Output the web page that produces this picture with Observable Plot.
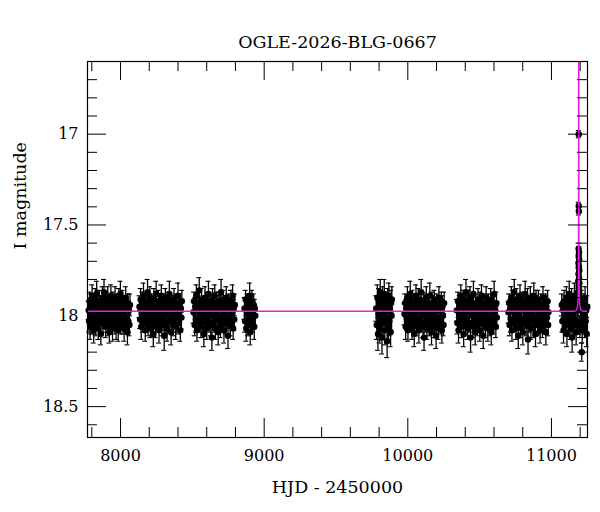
<!DOCTYPE html>
<html><head><meta charset="utf-8">
<script src="https://cdn.jsdelivr.net/npm/d3@7"></script>
<script src="https://cdn.jsdelivr.net/npm/@observablehq/plot@0.6"></script>
<style>body{margin:0;background:#fff;} #c svg{display:block;}</style>
</head><body><div id="c"></div>
<script>
const title = "OGLE-2026-BLG-0667";
const xLabel = "HJD - 2450000";
const yLabel = "I magnitude";
const xMajor = [8000, 9000, 10000, 11000];
const xMinor = [7800, 8200, 8400, 8600, 8800, 9200, 9400, 9600, 9800, 10200, 10400, 10600, 10800, 11200];
const yMajor = [17, 17.5, 18, 18.5];
const yMinor = [16.7, 16.8, 16.9, 17.1, 17.2, 17.3, 17.4, 17.6, 17.7, 17.8, 17.9, 18.1, 18.2, 18.3, 18.4, 18.6];

// [HJD-2450000, I mag, error]
const season1 = [[7778,17.97,.05],[7781,18.03,.06],[7785,17.92,.05],[7788,18.06,.07],[7791,17.99,.05],[7795,17.94,.06],[7798,18.01,.05],[7802,17.89,.06],[7806,18.04,.06],[7809,17.96,.05],[7813,18.08,.07],[7816,17.93,.05],[7820,18.00,.06],[7824,17.91,.06],[7827,18.05,.06],[7831,17.97,.05],[7834,17.88,.07],[7838,18.02,.05],[7842,17.95,.06],[7845,18.07,.06],[7849,17.98,.05],[7853,17.92,.06],[7856,18.03,.05],[7860,17.96,.07],[7863,18.10,.06],[7867,17.94,.05],[7871,18.00,.06],[7874,17.90,.06],[7878,18.04,.05],[7882,17.97,.06],[7885,17.87,.07],[7889,18.02,.05],[7892,17.95,.06],[7896,18.06,.06],[7900,17.99,.05],[7903,17.93,.06],[7907,18.01,.05],[7911,17.91,.07],[7914,18.05,.06],[7918,17.96,.05],[7922,18.09,.06],[7925,17.94,.05],[7929,18.00,.06],[7933,17.89,.06],[7936,18.03,.05],[7940,17.97,.06],[7944,18.07,.07],[7947,17.92,.05],[7951,18.02,.06],[7955,17.95,.05],[7958,18.04,.06],[7962,17.90,.06],[7966,17.99,.05],[7969,18.06,.07],[7973,17.93,.05],[7977,18.01,.06],[7980,17.96,.05],[7984,18.08,.06],[7988,17.91,.06],[7991,18.03,.05],[7995,17.97,.06],[7999,17.88,.07],[8002,18.05,.05],[8006,17.94,.06],[8010,18.00,.05],[8014,17.92,.06],[8017,18.04,.06],[8021,17.98,.05],[8025,18.07,.07],[8029,17.95,.06],[8032,18.02,.05],[8036,17.90,.06],[8040,18.01,.06],[8044,17.96,.05],[8048,18.09,.07],[8051,17.93,.05],[8055,18.03,.06],[8059,17.97,.05],[8062,18.05,.06],[8066,17.94,.06]];
const season2 = [[8132,17.95,.06],[8136,18.02,.05],[8140,17.91,.06],[8144,18.06,.07],[8148,17.98,.05],[8152,17.93,.06],[8156,18.04,.05],[8160,17.89,.07],[8164,18.00,.06],[8168,17.96,.05],[8172,18.08,.06],[8176,17.92,.05],[8180,18.03,.06],[8184,17.97,.05],[8188,17.87,.07],[8192,18.05,.06],[8196,17.94,.05],[8200,18.01,.06],[8204,17.90,.06],[8208,18.07,.05],[8212,17.99,.06],[8216,17.93,.05],[8220,18.04,.07],[8224,17.96,.05],[8228,18.10,.07],[8232,17.91,.06],[8236,18.02,.05],[8240,17.95,.06],[8244,18.06,.06],[8248,17.88,.07],[8252,18.00,.05],[8256,17.97,.06],[8260,18.03,.05],[8264,17.92,.06],[8268,18.08,.07],[8272,17.94,.05],[8276,18.01,.06],[8280,17.98,.05],[8284,17.89,.06],[8288,18.05,.06],[8292,17.96,.05],[8296,18.02,.06],[8300,17.93,.05],[8304,18.11,.08],[8308,17.99,.06],[8312,17.90,.05],[8316,18.04,.06],[8320,17.95,.05],[8324,18.07,.07],[8328,17.97,.06],[8332,17.92,.05],[8336,18.03,.06],[8340,17.88,.07],[8344,18.01,.05],[8348,17.96,.06],[8352,18.09,.07],[8356,17.94,.05],[8360,18.02,.06],[8364,17.98,.05],[8368,18.05,.06],[8372,17.91,.06],[8376,18.00,.05],[8380,17.95,.06],[8384,18.06,.07],[8388,17.93,.05],[8392,18.03,.06],[8396,17.97,.05],[8400,17.89,.07],[8404,18.04,.06],[8408,17.99,.05],[8412,17.94,.06],[8416,18.08,.06],[8420,17.96,.05],[8424,18.01,.06],[8427,17.92,.06]];
const season3 = [[8508,17.98,.06],[8512,17.92,.05],[8516,18.05,.06],[8520,17.95,.05],[8524,18.02,.07],[8528,17.89,.06],[8532,18.08,.06],[8536,17.97,.05],[8540,17.93,.06],[8544,18.03,.05],[8548,17.86,.07],[8552,18.00,.06],[8556,17.96,.05],[8560,18.06,.06],[8564,17.91,.06],[8568,18.04,.05],[8572,17.99,.06],[8576,17.94,.05],[8580,18.10,.07],[8584,17.97,.05],[8588,17.90,.06],[8592,18.02,.06],[8596,17.95,.05],[8600,18.07,.06],[8604,17.92,.05],[8608,18.01,.06],[8612,17.88,.07],[8616,18.04,.05],[8620,17.98,.06],[8624,17.93,.05],[8628,18.05,.06],[8632,17.96,.05],[8636,18.12,.07],[8640,17.91,.06],[8644,18.00,.05],[8648,17.95,.06],[8652,18.03,.06],[8656,17.89,.06],[8660,18.07,.06],[8664,17.97,.05],[8668,17.93,.06],[8672,18.02,.05],[8676,17.99,.06],[8680,18.09,.07],[8684,17.92,.05],[8688,18.01,.06],[8692,17.94,.05],[8696,18.06,.06],[8700,17.87,.07],[8704,18.03,.06],[8708,17.96,.05],[8712,18.00,.06],[8716,17.91,.05],[8720,18.08,.07],[8724,17.98,.06],[8728,17.94,.05],[8732,18.04,.06],[8736,17.90,.06],[8740,18.02,.05],[8744,17.97,.06],[8748,18.11,.07],[8752,17.93,.05],[8756,18.01,.06],[8760,17.95,.05],[8764,18.05,.06],[8768,17.92,.06],[8772,18.03,.05],[8776,17.98,.06],[8780,17.89,.06],[8784,18.07,.06],[8788,17.96,.05],[8792,18.02,.06],[8796,17.94,.06]];
const season4 = [[8863,17.96,.06],[8867,18.03,.06],[8871,17.91,.05],[8875,18.07,.07],[8879,17.98,.06],[8883,17.93,.05],[8887,18.05,.06],[8891,17.95,.06],[8895,18.01,.05],[8899,17.89,.07],[8903,18.09,.07],[8907,17.97,.05],[8911,18.02,.06],[8915,17.92,.06],[8919,18.04,.05],[8923,17.99,.06],[8927,17.94,.06],[8931,18.06,.07],[8935,17.96,.05],[8938,18.00,.06]];
const season5 = [[9780,17.96,.07],[9784,18.05,.08],[9788,17.90,.07],[9792,18.10,.09],[9796,17.99,.07],[9800,17.93,.08],[9804,18.07,.08],[9808,17.87,.07],[9812,18.02,.08],[9816,17.95,.07],[9820,18.12,.09],[9824,17.91,.07],[9828,18.04,.08],[9832,17.98,.07],[9836,17.88,.08],[9840,18.08,.08],[9844,17.94,.07],[9848,18.01,.08],[9852,17.97,.07],[9856,18.14,.09],[9860,17.92,.07],[9864,18.06,.08],[9868,17.89,.07],[9872,18.03,.08],[9876,17.96,.07],[9880,18.09,.08],[9884,17.93,.07],[9887,18.00,.08],[9889,17.91,.07]];
const season6 = [[9977,17.99,.06],[9981,17.93,.05],[9985,18.06,.07],[9989,17.96,.05],[9993,18.02,.06],[9997,17.90,.06],[10001,18.08,.06],[10005,17.97,.05],[10009,17.94,.06],[10013,18.04,.05],[10017,17.88,.07],[10021,18.00,.06],[10025,17.95,.05],[10029,18.07,.06],[10033,17.92,.06],[10037,18.03,.05],[10041,17.98,.06],[10045,18.10,.07],[10049,17.93,.05],[10053,18.01,.06],[10057,17.89,.06],[10061,18.05,.06],[10065,17.96,.05],[10069,18.02,.06],[10073,17.91,.06],[10077,18.08,.07],[10081,17.97,.05],[10085,17.94,.06],[10089,18.04,.05],[10093,17.87,.07],[10097,18.00,.06],[10101,17.95,.05],[10105,18.06,.06],[10109,17.92,.05],[10113,18.12,.07],[10117,17.98,.06],[10121,17.93,.05],[10125,18.03,.06],[10129,17.90,.06],[10133,18.07,.06],[10137,17.96,.05],[10141,18.01,.06],[10145,17.94,.05],[10149,18.05,.06],[10153,17.89,.07],[10157,18.02,.06],[10161,17.97,.05],[10165,18.09,.07],[10169,17.93,.06],[10173,18.00,.05],[10177,17.95,.06],[10181,18.06,.06],[10185,17.91,.05],[10189,18.03,.06],[10193,17.98,.05],[10197,18.11,.07],[10201,17.94,.06],[10205,18.02,.05],[10209,17.96,.06],[10213,18.07,.06],[10217,17.90,.06],[10221,18.01,.05],[10225,17.97,.06],[10229,18.04,.06],[10233,17.92,.05],[10237,18.08,.07],[10241,17.95,.06],[10245,18.00,.05],[10249,18.05,.06],[10253,17.93,.06]];
const season7 = [[10341,17.97,.06],[10345,18.04,.06],[10349,17.92,.05],[10353,18.08,.07],[10357,17.99,.06],[10361,17.94,.05],[10365,18.03,.06],[10369,17.89,.06],[10373,18.06,.06],[10377,17.96,.05],[10381,18.01,.06],[10385,17.91,.05],[10389,18.10,.07],[10393,17.98,.06],[10397,17.93,.05],[10401,18.05,.06],[10405,17.87,.07],[10409,18.02,.05],[10413,17.95,.06],[10417,18.07,.06],[10421,17.97,.05],[10425,17.92,.06],[10429,18.04,.05],[10433,17.90,.06],[10437,18.12,.08],[10441,17.96,.05],[10445,18.00,.06],[10449,17.94,.05],[10453,18.06,.06],[10457,17.88,.07],[10461,18.03,.06],[10465,17.98,.05],[10469,18.09,.07],[10473,17.93,.05],[10477,18.01,.06],[10481,17.95,.05],[10485,18.05,.06],[10489,17.91,.06],[10493,18.02,.05],[10497,17.97,.06],[10501,18.08,.06],[10505,17.92,.05],[10509,18.00,.06],[10513,17.89,.06],[10517,18.04,.06],[10521,17.96,.05],[10525,18.11,.07],[10529,17.94,.06],[10533,18.02,.05],[10537,17.98,.06],[10541,18.06,.06],[10545,17.90,.06],[10549,18.03,.05],[10553,17.95,.06],[10557,18.07,.07],[10561,17.93,.05],[10565,18.01,.06],[10569,17.97,.05],[10573,18.05,.06],[10577,17.91,.06],[10581,18.09,.07],[10585,17.96,.05],[10589,18.02,.06],[10593,17.94,.05],[10597,18.04,.06],[10601,17.88,.07],[10605,18.00,.06],[10609,17.97,.05],[10613,18.06,.06],[10617,17.93,.06],[10620,18.01,.06]];
const season8 = [[10701,17.98,.06],[10705,17.93,.05],[10709,18.05,.06],[10713,17.96,.05],[10717,18.02,.07],[10721,17.90,.06],[10725,18.08,.06],[10729,17.97,.05],[10733,17.92,.06],[10737,18.04,.05],[10741,17.87,.07],[10745,18.01,.06],[10749,17.95,.05],[10753,18.07,.06],[10757,17.91,.06],[10761,18.03,.05],[10765,17.99,.06],[10769,18.11,.07],[10773,17.94,.05],[10777,18.00,.06],[10781,17.89,.06],[10785,18.06,.06],[10789,17.96,.05],[10793,18.02,.06],[10797,17.92,.05],[10801,18.09,.07],[10805,17.97,.06],[10809,17.93,.05],[10813,18.04,.06],[10817,17.88,.07],[10821,18.01,.06],[10825,17.95,.05],[10829,18.05,.06],[10833,17.91,.06],[10837,18.13,.08],[10841,17.98,.06],[10845,17.94,.05],[10849,18.03,.06],[10853,17.90,.06],[10857,18.07,.06],[10861,17.96,.05],[10865,18.00,.06],[10869,17.93,.05],[10873,18.06,.06],[10877,17.89,.07],[10881,18.02,.06],[10885,17.97,.05],[10889,18.10,.07],[10893,17.92,.06],[10897,18.01,.05],[10901,17.95,.06],[10905,18.05,.06],[10909,17.91,.05],[10913,18.04,.06],[10917,17.98,.05],[10921,18.08,.07],[10925,17.94,.06],[10929,18.02,.05],[10933,17.96,.06],[10937,18.06,.06],[10941,17.90,.06],[10945,18.00,.05],[10949,17.97,.06],[10953,18.04,.06],[10957,17.93,.05],[10961,18.09,.07],[10965,17.95,.06],[10969,18.01,.05],[10973,17.92,.06],[10977,18.05,.06],[10979,17.98,.06]];
const season9 = [[11072,17.94,.06],[11076,18.03,.06],[11080,17.97,.05],[11084,18.08,.07],[11088,17.92,.06],[11092,18.01,.05],[11096,17.95,.06],[11100,18.05,.06],[11104,17.90,.06],[11108,18.10,.07],[11112,17.98,.05],[11116,17.93,.06],[11120,18.04,.05],[11124,17.88,.07],[11128,18.02,.06],[11132,17.96,.05],[11136,18.07,.06],[11140,17.91,.06],[11144,18.12,.08],[11148,17.99,.06],[11152,17.94,.05],[11156,18.05,.06],[11160,17.89,.07],[11164,18.02,.06],[11168,17.96,.05],[11172,18.09,.07],[11176,17.93,.06],[11180,18.04,.06],[11184,17.97,.05],[11198,18.06,.06],[11202,17.95,.06],[11206,18.03,.05],[11210,17.92,.06],[11214,18.08,.07],[11218,17.98,.06],[11222,18.01,.05],[11226,17.94,.06],[11230,18.06,.06],[11234,17.90,.06],[11238,18.03,.05],[11242,17.97,.06],[11246,18.10,.07],[11250,17.95,.06]];
const eventPts = [[11190,17.00,.02],[11190,17.395,.02],[11191,17.425,.02],[11189,17.63,.03],[11192,17.65,.03],[11190,17.67,.03],[11193,17.69,.03],[11188,17.71,.03],[11191,17.73,.03],[11194,17.75,.03],[11189,17.77,.04],[11192,17.79,.04],[11187,17.81,.04],[11195,17.82,.04],[11190,17.84,.04],[11193,17.86,.04],[11186,17.87,.04],[11189,17.89,.05],[11196,17.90,.05],[11184,17.91,.05],[11211,18.20,.05]];

// model curve
const modelT = [7770, 11160, 11170, 11176, 11181, 11184, 11186, 11188, 11189.3, 11190, 11190.7, 11192, 11194, 11196, 11199, 11204, 11210, 11220, 11251];
const modelM = [17.975, 17.975, 17.972, 17.965, 17.95, 17.93, 17.88, 17.6, 16.5, 15.0, 16.5, 17.6, 17.88, 17.93, 17.95, 17.965, 17.972, 17.975, 17.975];

const pts = [season1, season2, season3, season4, season5, season6, season7, season8, season9, eventPts].flat()
  .map(([t, m, e]) => ({t, m, e}));
const model = modelT.map((t, i) => ({t, m: modelM[i]}));

const font = "DejaVu Serif";
const chart = Plot.plot({
  width: 600, height: 512,
  marginLeft: 87, marginRight: 13, marginTop: 61, marginBottom: 75,
  style: {fontFamily: font, background: "white", color: "black"},
  x: {domain: [7770, 11251]},
  y: {domain: [16.6, 18.67], reverse: true},
  marks: [
    Plot.ruleX(pts, {x: "t", y1: d => d.m - d.e, y2: d => d.m + d.e, stroke: "black", strokeWidth: 1.3}),
    Plot.ruleY(pts, {y: d => d.m - d.e, x1: d => d.t - 17, x2: d => d.t + 17, stroke: "black", strokeWidth: 1.1}),
    Plot.ruleY(pts, {y: d => d.m + d.e, x1: d => d.t - 17, x2: d => d.t + 17, stroke: "black", strokeWidth: 1.1}),
    Plot.dot(pts, {x: "t", y: "m", r: 3.2, fill: "black", stroke: "none"}),
    Plot.line(model, {x: "t", y: "m", stroke: "#e81ee8", strokeWidth: 1.3, clip: true}),
    Plot.tickX(xMajor, {x: d => d, insetTop: 357, stroke: "black"}),
    Plot.tickX(xMajor, {x: d => d, insetBottom: 357, stroke: "black"}),
    Plot.tickX(xMinor, {x: d => d, insetTop: 366, stroke: "black"}),
    Plot.tickX(xMinor, {x: d => d, insetBottom: 366, stroke: "black"}),
    Plot.tickY(yMajor, {y: d => d, insetRight: 481, stroke: "black"}),
    Plot.tickY(yMajor, {y: d => d, insetLeft: 481, stroke: "black"}),
    Plot.tickY(yMinor, {y: d => d, insetRight: 490, stroke: "black"}),
    Plot.tickY(yMinor, {y: d => d, insetLeft: 490, stroke: "black"}),
    Plot.frame({stroke: "black", strokeWidth: 1.2}),
    Plot.axisX(xMajor, {tickSize: 0, tickPadding: 12, fontSize: 16, label: null, tickFormat: d => String(d)}),
    Plot.axisY(yMajor, {tickSize: 0, tickPadding: 9, fontSize: 16, label: null, tickFormat: d => String(d)}),
    Plot.text([title], {frameAnchor: "top", dy: -26, fontSize: 17.5, fill: "black"}),
    Plot.text([xLabel], {frameAnchor: "bottom", dy: 55, fontSize: 17.5, fill: "black"}),
    Plot.text([yLabel], {frameAnchor: "left", dx: -67, rotate: -90, fontSize: 17.5, fill: "black"})
  ]
});
document.getElementById("c").appendChild(chart);
</script>
</body></html>
